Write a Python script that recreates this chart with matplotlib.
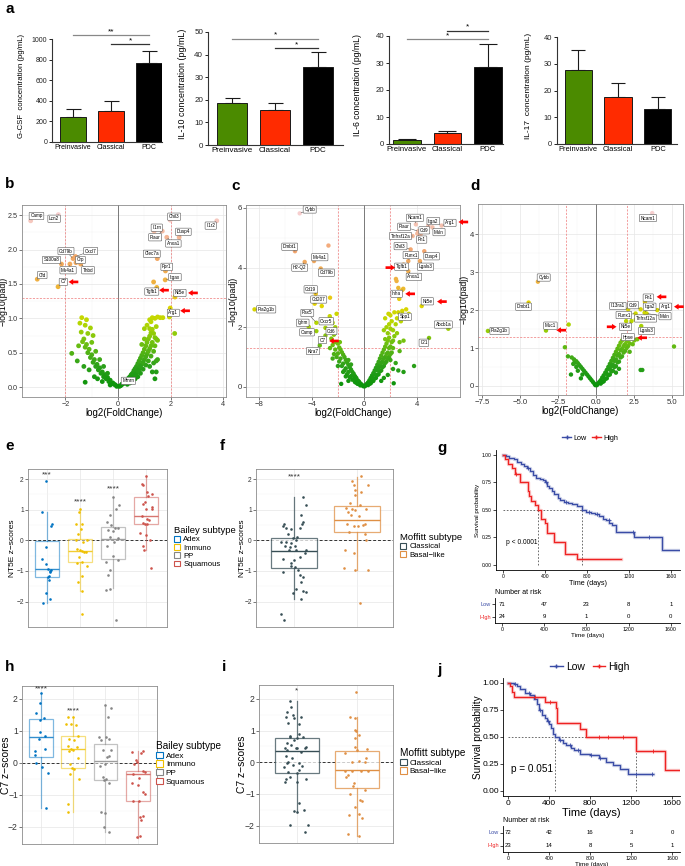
import numpy as np
import matplotlib
matplotlib.use("Agg")
import matplotlib.pyplot as plt
from matplotlib.colors import LinearSegmentedColormap
from matplotlib.lines import Line2D
from matplotlib.patches import Patch

plt.rcParams["font.family"] = ["Liberation Sans", "DejaVu Sans"]

W, H = 685, 866
fig = plt.figure(figsize=(W / 100, H / 100), dpi=100)


def add_ax(x0, y0, x1, y1):
    return fig.add_axes([x0 / W, 1 - y1 / H, (x1 - x0) / W, (y1 - y0) / H])


def ftext(x, y, s, **kw):
    fig.text(x / W, 1 - y / H, s, **kw)


# ---------------- data: panel a ----------------
cyto_groups = ["Preinvasive", "Classical", "PDC"]
cyto_colors = ["#4b8b00", "#ff2b00", "#000000"]
gcsf_mean = [240, 300, 770]
gcsf_sem = [80, 95, 110]
il10_mean = [18.8, 15.3, 34.5]
il10_sem = [2.0, 3.3, 6.7]
il6_mean = [1.3, 3.9, 28.5]
il6_sem = [0.4, 0.9, 8.5]
il17_mean = [27.7, 17.7, 13.0]
il17_sem = [7.3, 5.1, 4.4]
gcsf_sig = [(0, 2, 1035, "**"), (1, 2, 950, "*")]
il10_sig = [(0, 2, 47, "*"), (1, 2, 42.8, "*")]
il6_sig = [(0, 2, 38.8, "*"), (1, 2, 42, "*")]

# ---------------- data: volcano b ----------------
b_cloud = [(-0.05, 0.01), (-0.1, 0.03), (-0.15, 0.04), (-0.2, 0.06), (-0.25, 0.05), (-0.3, 0.1), (-0.35, 0.08),
           (-0.4, 0.14), (-0.45, 0.12), (-0.5, 0.18), (-0.55, 0.15), (-0.6, 0.22), (-0.65, 0.2), (-0.7, 0.28),
           (-0.75, 0.25), (-0.8, 0.33), (-0.85, 0.3), (-0.9, 0.4), (-0.95, 0.36), (-1.0, 0.47), (-1.05, 0.43),
           (-1.1, 0.55), (-1.15, 0.5), (-1.2, 0.62), (-1.25, 0.58), (-1.3, 0.7), (-1.35, 0.66), (-1.4, 0.8),
           (-0.4, 0.2), (-0.55, 0.3), (-0.7, 0.4), (-0.85, 0.52), (-1.0, 0.65), (-1.15, 0.78), (-1.25, 0.9),
           (-1.38, 1.01), (-1.2, 0.98), (-1.05, 0.86), (-0.95, 0.75), (-1.45, 0.93), (-1.76, 0.49), (-1.55, 0.38),
           (-1.25, 0.07), (-1.1, 0.25), (-1.3, 0.3), (-0.6, 0.08), (-0.9, 0.15), (-1.5, 0.6), (-0.78, 0.12),
           (-0.3, 0.03), (0.05, 0.01), (0.1, 0.02), (0.15, 0.04), (0.2, 0.05), (0.25, 0.07), (0.3, 0.09),
           (0.35, 0.1), (0.4, 0.13), (0.45, 0.15), (0.5, 0.18), (0.55, 0.2), (0.6, 0.24), (0.65, 0.27), (0.7, 0.3),
           (0.75, 0.34), (0.8, 0.38), (0.85, 0.42), (0.9, 0.46), (0.95, 0.5), (1.0, 0.55), (1.05, 0.6), (1.1, 0.65),
           (1.15, 0.7), (1.2, 0.74), (1.25, 0.79), (1.3, 0.84), (0.35, 0.04), (0.45, 0.06), (0.55, 0.08),
           (0.65, 0.12), (0.75, 0.15), (0.85, 0.2), (0.95, 0.26), (1.05, 0.32), (1.15, 0.38), (1.25, 0.45),
           (1.35, 0.52), (1.4, 0.6), (0.6, 0.15), (0.7, 0.2), (0.8, 0.26), (0.9, 0.33), (1.0, 0.4), (1.1, 0.48),
           (1.2, 0.56), (1.3, 0.65), (1.4, 0.72), (1.45, 0.7), (1.5, 0.68), (1.35, 0.78), (0.5, 0.12), (0.65, 0.18),
           (0.75, 0.24), (0.85, 0.3), (0.95, 0.36), (1.05, 0.44), (1.15, 0.52), (1.25, 0.6), (1.2, 0.3),
           (1.35, 0.35), (1.3, 0.22), (1.45, 0.22), (1.4, 0.12), (1.45, 0.38), (1.5, 0.4), (1.3, 1.01), (1.4, 1.0),
           (1.5, 1.02), (1.6, 1.01), (1.7, 1.01), (1.95, 1.02), (2.15, 0.78), (1.2, 0.98), (1.1, 0.9), (1.0, 0.85),
           (1.45, 0.88), (0.9, 0.62), (1.0, 0.7), (1.2, 0.85), (1.25, 0.95), (1.35, 1.53), (-1.65, 1.88)]
b_genes = [("Camp", -3.32, 2.42), ("Lcn2", -2.27, 2.51), ("Cd79b", -1.71, 1.87), ("Cxcl7", -1.62, 1.9),
           ("S100a8", -2.15, 1.79), ("Crp", -1.6, 1.81), ("Ms4a1", -1.83, 1.79), ("Thbd", -1.42, 1.79),
           ("Cfd", -3.07, 1.57), ("C7", -2.28, 1.46), ("Chil3", 1.98, 2.43), ("Il1rn", 1.37, 2.27),
           ("Plaur", 1.68, 2.27), ("Dusp4", 2.32, 2.18), ("Anxa1", 1.85, 2.18), ("Il1r2", 3.75, 2.42),
           ("Clec7a", 1.49, 1.87), ("Fpr1", 1.8, 1.69), ("Itgax", 1.79, 1.56), ("Tgfb1", 1.47, 1.45),
           ("Nt5e", 2.16, 1.31), ("Arg1", 1.98, 1.15), ("Mmrn", 0.15, 0.04)]
b_label_at = [(-3.1, 2.49), (-2.43, 2.45), (-1.98, 1.98), (-1.04, 1.98), (-2.53, 1.85), (-1.43, 1.85),
              (-1.9, 1.7), (-1.14, 1.7), (-2.88, 1.63), (-2.08, 1.53), (2.13, 2.48), (1.47, 2.32), (1.41, 2.18),
              (2.48, 2.26), (2.1, 2.09), (3.52, 2.35), (1.28, 1.94), (1.85, 1.75), (2.16, 1.6), (1.28, 1.39),
              (2.35, 1.37), (2.1, 1.08), (0.39, 0.09)]
b_arrows = [(-1.88, 1.53, "left"), (1.56, 1.41, "left"), (2.66, 1.37, "left"), (2.36, 1.11, "left")]

# ---------------- data: volcano c ----------------
c_cloud = [(-0.05, 0.02), (-0.1, 0.04), (-0.2, 0.08), (-0.3, 0.12), (-0.4, 0.18), (-0.5, 0.22), (-0.6, 0.3),
           (-0.7, 0.36), (-0.8, 0.44), (-0.9, 0.5), (-1.0, 0.58), (-1.1, 0.66), (-1.2, 0.74), (-1.3, 0.82),
           (-1.4, 0.9), (-1.5, 1.0), (-1.6, 1.08), (-1.7, 1.16), (-1.8, 1.25), (-1.9, 1.32), (-0.3, 0.05),
           (-0.5, 0.1), (-0.7, 0.16), (-0.9, 0.24), (-1.1, 0.32), (-1.3, 0.42), (-1.5, 0.55), (-1.7, 0.7),
           (-1.9, 0.85), (-2.1, 1.0), (-0.6, 0.14), (-0.8, 0.26), (-1.0, 0.36), (-1.2, 0.5), (-1.4, 0.62),
           (-1.6, 0.78), (-1.8, 0.95), (-2.0, 1.12), (-2.2, 1.25), (-2.4, 1.4), (-2.0, 1.45), (-2.2, 1.5),
           (-2.5, 1.62), (-2.3, 1.75), (-1.85, 1.5), (-2.0, 0.7), (-2.3, 1.1), (-1.2, 0.9), (-1.0, 0.75),
           (-1.75, 0.1), (-2.6, 1.3), (-2.4, 0.95), (-1.6, 0.5), (-1.4, 0.35), (-1.2, 0.2), (-2.5, 1.9),
           (-2.2, 2.0), (-2.4, 2.15), (-2.1, 2.45), (-2.6, 2.3), (0.05, 0.02), (0.1, 0.05), (0.2, 0.1),
           (0.3, 0.15), (0.4, 0.22), (0.5, 0.3), (0.6, 0.38), (0.7, 0.46), (0.8, 0.55), (0.9, 0.64), (1.0, 0.74),
           (1.1, 0.84), (1.2, 0.95), (1.3, 1.05), (1.4, 1.15), (1.5, 1.25), (1.6, 1.35), (1.7, 1.45), (1.8, 1.55),
           (1.9, 1.65), (0.3, 0.06), (0.5, 0.12), (0.7, 0.2), (0.9, 0.3), (1.1, 0.42), (1.3, 0.55), (1.5, 0.7),
           (1.7, 0.85), (1.9, 1.0), (2.1, 1.15), (0.4, 0.1), (0.6, 0.18), (0.8, 0.28), (1.0, 0.4), (1.2, 0.52),
           (1.4, 0.66), (1.6, 0.8), (1.8, 0.95), (2.0, 1.1), (2.2, 1.3), (0.6, 0.3), (0.8, 0.42), (1.0, 0.55),
           (1.2, 0.7), (1.4, 0.85), (1.6, 1.0), (1.8, 1.15), (2.0, 1.35), (2.2, 1.55), (1.1, 0.62), (1.3, 0.8),
           (1.5, 0.95), (1.7, 1.1), (1.9, 1.3), (2.1, 1.5), (2.3, 1.7), (1.6, 1.6), (1.8, 1.8), (2.0, 1.95),
           (1.5, 1.9), (1.7, 2.0), (1.9, 2.1), (2.2, 1.9), (2.4, 2.1), (1.6, 2.3), (2.0, 2.4), (2.3, 2.5),
           (2.1, 2.2), (1.85, 2.45), (2.5, 2.3), (2.6, 2.5), (2.9, 2.55), (3.2, 2.6), (3.4, 2.45), (2.8, 2.2),
           (3.1, 2.3), (2.5, 1.8), (2.7, 1.5), (3.0, 1.55), (2.7, 1.2), (3.8, 0.7), (2.6, 0.55), (3.0, 0.5),
           (2.25, 0.12), (1.3, 0.2), (2.4, 0.8), (2.2, 0.6), (1.8, 0.4), (1.5, 0.3), (2.0, 0.9), (-2.72, 4.74),
           (-2.6, 2.99), (-3.23, 2.71), (2.42, 3.62), (2.47, 3.55), (2.6, 3.32), (2.98, 3.29), (2.67, 2.95)]
c_genes = [("Cybb", -4.91, 5.82), ("Dmbt1", -5.27, 4.55), ("Ms4a1", -3.82, 4.22), ("H2-Q2", -4.53, 4.19),
           ("Cd79b", -3.31, 3.97), ("Cd19", -3.69, 3.12), ("Cd207", -3.77, 2.79), ("Pla2g1b", -8.35, 2.6),
           ("Pax5", -3.64, 2.15), ("Cxcr5", -2.62, 2.37), ("Ighm", -4.22, 2.01), ("Camp", -3.64, 1.87),
           ("Cd6", -2.95, 1.98), ("C7", -2.95, 1.72), ("Klra7", -3.38, 1.39), ("Ncam1", 3.94, 5.45),
           ("Itga2", 4.89, 5.41), ("Arg1", 5.9, 5.41), ("Plaur", 4.12, 5.22), ("Cd9", 4.3, 5.12),
           ("Msln", 5.2, 5.35), ("Tnfrsf12a", 3.69, 5.06), ("Fn1", 4.05, 5.14), ("Chil3", 3.54, 4.61),
           ("Runx1", 3.36, 4.22), ("Dusp4", 4.58, 4.55), ("Tgfb1", 3.0, 4.1), ("Lgals3", 4.25, 4.22),
           ("Anxa1", 3.36, 3.88), ("Inha", 2.9, 3.25), ("Nt5e", 4.38, 2.71), ("Spp1", 2.9, 2.45),
           ("Abcb1a", 6.41, 1.95), ("Il21", 4.94, 1.64)]
c_label_at = [(-4.15, 5.95), (-5.67, 4.7), (-3.38, 4.35), (-4.91, 4.0), (-2.88, 3.83), (-4.07, 3.27),
              (-3.46, 2.93), (-7.46, 2.6), (-4.33, 2.48), (-2.88, 2.2), (-4.68, 2.15), (-4.35, 1.83),
              (-2.49, 1.87), (-3.18, 1.57), (-3.89, 1.2), (3.87, 5.67), (5.27, 5.56), (6.54, 5.5), (3.05, 5.37),
              (4.58, 5.25), (5.7, 5.19), (2.77, 5.06), (4.38, 4.94), (2.77, 4.72), (3.56, 4.42), (5.14, 4.38),
              (2.85, 4.03), (4.68, 4.03), (3.79, 3.69), (2.47, 3.12), (4.81, 2.87), (3.1, 2.35), (6.03, 2.09),
              (4.55, 1.48)]
c_arrows = [(-2.67, 1.54, "left"), (2.37, 4.0, "right"), (3.13, 3.12, "left"), (5.55, 2.86, "left"),
            (7.18, 5.53, "left")]

# ---------------- data: volcano d ----------------
d_cloud = [(-0.05, 0.02), (-0.1, 0.05), (-0.2, 0.1), (-0.3, 0.15), (-0.4, 0.2), (-0.5, 0.25), (-0.6, 0.3),
           (-0.7, 0.35), (-0.8, 0.4), (-0.9, 0.45), (-1.0, 0.5), (-1.1, 0.55), (-1.2, 0.6), (-1.3, 0.65),
           (-1.45, 0.7), (-1.6, 0.75), (-1.85, 0.78), (-2.05, 1.02), (-1.2, 0.4), (-1.5, 0.58), (-1.65, 0.3),
           (-1.3, 0.5), (-0.9, 0.3), (-1.0, 0.2), (-1.45, 0.6), (0.05, 0.02), (0.1, 0.05), (0.2, 0.1),
           (0.3, 0.15), (0.4, 0.22), (0.5, 0.28), (0.6, 0.35), (0.7, 0.42), (0.8, 0.5), (0.9, 0.58), (1.0, 0.66),
           (1.1, 0.74), (1.2, 0.82), (1.3, 0.9), (1.4, 0.98), (1.5, 1.06), (1.6, 1.14), (1.7, 1.2), (1.8, 1.25),
           (1.9, 1.28), (0.3, 0.06), (0.5, 0.12), (0.7, 0.2), (0.9, 0.3), (1.1, 0.4), (1.3, 0.52), (1.5, 0.64),
           (1.7, 0.78), (1.9, 0.92), (2.1, 1.05), (0.4, 0.1), (0.6, 0.18), (0.8, 0.28), (1.0, 0.38), (1.2, 0.5),
           (1.4, 0.62), (1.6, 0.75), (1.8, 0.88), (2.0, 1.0), (2.2, 1.12), (0.7, 0.32), (0.9, 0.44), (1.1, 0.56),
           (1.3, 0.7), (1.5, 0.84), (1.7, 0.98), (1.9, 1.1), (2.1, 1.2), (2.3, 1.25), (1.0, 0.52), (1.2, 0.66),
           (1.4, 0.8), (1.6, 0.94), (1.8, 1.05), (2.0, 1.18), (2.2, 0.9), (2.4, 1.1), (2.5, 1.2), (1.5, 0.45),
           (1.3, 0.35), (2.92, 0.42), (3.03, 0.42), (5.11, 1.04), (1.97, 1.71), (-1.8, 1.62)]
d_genes = [("Ncam1", 3.68, 4.56), ("Cybb", -3.82, 2.75), ("Dmbt1", -4.43, 2.2), ("Muc1", -3.29, 1.46),
           ("Pla2g1b", -7.1, 1.45), ("Fn1", 3.2, 2.22), ("Il13ra1", 2.1, 2.02), ("Cd9", 2.92, 2.02),
           ("Itga2", 3.18, 1.93), ("Arg1", 4.01, 2.0), ("Msln", 3.31, 1.91), ("Runx1", 2.59, 1.91),
           ("Tnfrsf12a", 2.6, 1.75), ("Nt5e", 2.32, 1.71), ("Lgals3", 2.96, 1.58), ("Hpse", 2.7, 1.23)]
d_label_at = [(3.4, 4.43), (-3.44, 2.86), (-4.76, 2.09), (-3.0, 1.59), (-6.34, 1.45), (3.42, 2.33),
              (1.43, 2.11), (2.43, 2.13), (3.51, 2.09), (4.56, 2.09), (4.52, 1.84), (1.82, 1.87), (3.25, 1.78),
              (1.93, 1.56), (3.31, 1.45), (2.08, 1.29)]
d_arrows = [(-2.61, 1.47, "left"), (3.97, 2.35, "left"), (5.11, 2.09, "left"), (1.34, 1.56, "right"),
            (2.7, 1.27, "left")]

# ---------------- data: box plots ----------------
bailey = ["Adex", "Immuno", "PP", "Squamous"]
bailey_colors = ["#0073C2", "#EFC000", "#868686", "#CD534C"]
moffitt = ["Classical", "Basal\u2212like"]
moffitt_colors = ["#374E55", "#DF8F44"]

# (q1, median, q3, lower whisker, upper whisker)
e_stats = [(-1.21, -0.93, -0.02, -2.03, 0.93), (-0.71, -0.35, 0.03, -1.67, 1.01),
           (-0.6, 0.05, 0.43, -1.57, 1.42), (0.52, 0.8, 1.42, -0.32, 2.1)]
e_vals = [[1.95, 0.93, 0.55, 0.47, -0.21, -0.62, -0.78, -0.93, -0.99, -0.97, -1.05, -1.16, -1.2, -1.29, -1.71,
           -1.92, -2.05],
          [1.01, 0.93, 0.52, 0.55, 0.21, 0.36, 0.01, 0.01, -0.04, -0.29, -0.32, -0.34, -0.37, -0.39, -0.53, -0.73,
           -0.7, -0.84, -1.18, -1.35, -1.67, -2.4],
          [1.42, 1.17, 1.02, 0.83, 0.61, 0.5, 0.39, 0.39, 0.34, 0.32, 0.12, 0.07, -0.04, -0.18, -0.51, -0.64,
           -0.72, -0.97, -1.13, -1.62, -1.6, -2.6],
          [2.1, 1.83, 1.8, 1.57, 1.5, 1.45, 1.26, 1.18, 1.1, 1.01, 1.01, 0.8, 0.7, 0.66, 0.58, 0.55, 0.52, 0.25,
           0.17, 0.01, -0.18, -0.32, -0.89]]
e_jit = [[-0.02, -0.15, 0.16, 0.13, -0.04, -0.15, -0.02, 0.03, 0.08, 0.13, 0.08, 0.05, 0.03, 0.06, -0.02, 0.08,
          -0.12],
         [0, -0.02, -0.12, 0.07, -0.05, 0.02, -0.12, 0.22, 0.1, -0.1, 0, 0.06, 0.12, 0.18, -0.03, -0.08, 0.05, 0.2,
          0.07, -0.05, 0.05, 0.07],
         [0, 0.18, 0.1, -0.1, -0.18, -0.05, 0.05, 0.15, -0.15, 0, -0.08, 0.15, 0.02, -0.18, 0, 0.16, -0.2, -0.1,
          -0.15, -0.2, -0.08, 0.08],
         [0, -0.13, -0.08, 0.02, 0.19, 0.07, -0.03, -0.1, 0.17, -0.01, 0.17, -0.13, 0.02, 0.1, -0.1, -0.03, 0.02,
          -0.18, -0.01, 0.12, -0.08, -0.06, 0.14]]
e_sig = [(1, 2.13, "***"), (2, 1.26, "****"), (3, 1.67, "****")]

f_stats = [(-0.91, -0.34, 0.07, -1.92, 1.42), (0.28, 0.68, 1.12, -0.97, 2.08)]
f_vals = [[1.42, 1.15, 0.83, 0.61, 0.55, 0.53, 0.47, 0.39, 0.39, 0.37, 0.21, 0.1, 0.07, -0.04, -0.04, -0.08,
           0.01, -0.18, -0.21, -0.18, -0.32, -0.32, -0.32, -0.4, -0.62, -0.55, -0.64, -0.75, -0.84, -0.86, -0.97,
           -1.05, -1.13, -1.21, -1.35, -1.6, -1.73, -1.64, -1.7, -1.92, -2.4, -2.6],
          [2.1, 1.95, 1.8, 1.8, 1.64, 1.57, 1.48, 1.23, 1.17, 1.07, 1.02, 0.99, 1.02, 0.93, 0.83, 0.8, 0.55, 0.55,
           0.47, 0.5, 0.47, 0.28, 0.21, 0.01, -0.32, -0.4, -0.89, -0.97, -0.97, -2.05]]
f_jit = [[0.15, 0.19, 0.11, 0.15, 0.13, -0.16, -0.17, -0.12, 0.09, -0.04, -0.09, 0.05, -0.02, -0.2, -0.12, -0.05,
          0.04, -0.14, -0.06, 0.02, -0.07, 0.04, 0.19, 0.18, -0.18, 0.09, 0, -0.04, -0.05, 0.02, 0.07, -0.17, 0.09,
          0.15, 0.12, 0.03, -0.01, 0.15, 0.19, 0.11, -0.2, -0.16],
         [0.06, -0.08, 0.18, -0.05, -0.03, 0.06, -0.03, -0.11, 0.05, -0.17, -0.08, -0.03, 0.14, -0.15, -0.1, 0.03,
          -0.16, 0.12, -0.05, 0.1, 0.01, -0.12, 0.12, 0.14, -0.19, -0.05, -0.2, -0.03, 0.17, 0.04]]
f_sig = [(1, 2.08, "****")]

h_stats = [(0.18, 0.81, 1.38, -1.4, 2.17), (-0.17, 0.44, 0.84, -1.55, 1.42),
           (-0.53, 0.07, 0.6, -2.18, 1.82), (-1.19, -0.36, -0.27, -2.35, 0.38)]
h_vals = [[2.17, 1.87, 1.56, 1.4, 1.35, 0.96, 0.85, 0.75, 0.43, 0.36, 0.25, -0.01, -0.12, -0.32, -1.4],
          [1.42, 1.42, 1.21, 1.21, 1.17, 0.85, 0.74, 0.72, 0.51, 0.44, 0.39, 0.48, 0.38, 0.15, -0.04, -0.17, -0.2,
           -0.35, -0.5, -1.3, -1.55],
          [1.82, 1.72, 1.42, 0.81, 0.8, 0.75, 0.7, 0.41, 0.41, 0.17, 0.2, -0.04, -0.09, -0.43, -0.5, -0.53, -0.62,
           -1.53, -1.58, -2.0, -2.18],
          [0.38, 0.29, 0.34, 0.09, 0.01, -0.03, -0.25, -0.29, -0.36, -0.48, -0.64, -0.69, -0.9, -0.98, -1.19,
           -1.19, -1.69, -1.65, -1.79, -2.31, -2.28]]
h_jit = [[0, -0.02, -0.14, 0.08, -0.04, -0.02, 0.11, -0.05, 0.13, -0.18, -0.2, -0.14, 0.04, 0.21, 0.16],
         [-0.15, -0.02, -0.21, -0.07, 0.08, 0.15, -0.13, 0.02, -0.15, -0.08, -0.02, 0.12, -0.12, 0.15, -0.1, -0.05,
          0.02, -0.1, 0.18, -0.15, -0.15],
         [0, 0.18, 0.07, -0.19, 0.02, 0.1, -0.13, -0.08, 0.18, 0.04, 0.12, 0, -0.16, -0.08, 0.02, -0.06, 0.1,
          -0.13, 0, -0.06, 0.12],
         [0.18, 0.09, -0.19, -0.05, -0.03, -0.1, 0.15, 0.22, -0.13, 0.05, -0.19, 0.02, 0.18, 0.22, -0.13, 0.05,
          0.07, 0.15, 0.09, -0.03, 0.07]]
h_sig = [(1, 2.32, "****"), (2, 1.61, "****")]

i_stats = [(-0.33, 0.36, 0.78, -1.56, 1.92), (-0.8, -0.24, 0.36, -2.32, 1.44)]
i_vals = [[1.92, 1.73, 1.6, 1.49, 1.44, 1.41, 1.44, 1.23, 1.2, 0.83, 0.88, 0.8, 0.78, 0.81, 0.71, 0.62, 0.55,
           0.46, 0.46, 0.44, 0.49, 0.44, 0.39, 0.32, 0.21, 0.15, 0.0, -0.03, -0.03, -0.14, -0.08, -0.11, -0.24,
           -0.32, -0.33, -0.45, -0.53, -0.53, -0.63, -0.63, -1.29, -1.54, -1.58, -1.51, -1.98, -1.98, -2.19],
          [2.21, 1.44, 1.39, 1.02, 0.99, 0.86, 0.76, 0.49, 0.39, 0.28, 0.42, 0.15, 0.02, 0.04, 0.02, -0.29, -0.4,
           -0.45, -0.29, -0.29, -0.27, -0.66, -0.74, -0.87, -1.0, -1.19, -1.21, -1.4, -1.64, -1.68, -1.77, -2.27,
           -2.33]]
i_jit = [[-0.12, -0.1, -0.16, -0.07, -0.18, -0.05, 0.07, -0.15, 0.04, -0.11, 0.04, -0.12, 0.01, 0.11, -0.04,
          -0.16, -0.1, -0.19, -0.01, 0.01, 0.15, 0.14, -0.16, 0.07, -0.18, -0.08, -0.14, -0.16, 0.03, -0.22, -0.07,
          0.08, 0.03, -0.14, 0, -0.11, -0.18, 0.16, -0.19, 0.01, 0.03, -0.05, 0, 0.12, -0.11, 0.18, 0.14],
         [-0.01, -0.12, -0.04, -0.04, -0.01, 0.03, -0.04, -0.04, 0, -0.2, 0.17, 0.15, -0.08, 0.04, 0.13, -0.2,
          -0.15, -0.18, -0.08, 0.07, 0.18, -0.05, -0.07, 0.13, -0.12, 0.05, 0.09, -0.04, 0.03, -0.13, 0.09, -0.15,
          0.03]]
i_sig = [(1, 2.25, "*")]

# ---------------- data: survival ----------------
km_colors = {"Low": "#3a4ca6", "High": "#ee2222"}
risk_times = [0, 400, 800, 1200, 1600]
g_low_t = [0, 30, 60, 100, 130, 170, 200, 230, 260, 290, 310, 350, 380, 400, 420, 440, 470, 490, 520, 540, 580,
           620, 660, 700, 750, 790, 840, 880, 910, 950, 980, 1010, 1040, 1080, 1250, 1510, 1686]
g_low_s = [1.0, 0.99, 0.97, 0.96, 0.94, 0.92, 0.9, 0.88, 0.85, 0.82, 0.79, 0.78, 0.77, 0.75, 0.72, 0.7, 0.67,
           0.64, 0.61, 0.59, 0.57, 0.56, 0.55, 0.53, 0.5, 0.48, 0.47, 0.46, 0.44, 0.42, 0.41, 0.38, 0.36, 0.3, 0.25,
           0.13, 0.13]
g_high_t = [0, 20, 50, 90, 110, 160, 235, 250, 270, 300, 337, 360, 400, 420, 485, 590, 705, 1125]
g_high_s = [1.0, 0.96, 0.92, 0.88, 0.83, 0.75, 0.67, 0.63, 0.58, 0.54, 0.5, 0.42, 0.38, 0.29, 0.21, 0.1, 0.05, 0.05]
g_low_cens = [234, 406, 600, 818, 900, 1006, 1234, 1390]
g_high_cens = [120]
g_medians = [337, 750]
g_risk_low = [71, 47, 23, 8, 1]
g_risk_high = [24, 9, 1, 0, 0]

j_low_t = [0, 60, 90, 120, 170, 215, 250, 280, 300, 330, 360, 380, 400, 415, 440, 458, 500, 540, 570, 610, 640,
           700, 800, 890, 960, 1020, 1090, 1170, 1410]
j_low_s = [1.0, 0.99, 0.97, 0.94, 0.91, 0.89, 0.85, 0.8, 0.75, 0.7, 0.67, 0.65, 0.62, 0.58, 0.53, 0.5, 0.47, 0.44,
           0.42, 0.4, 0.38, 0.34, 0.33, 0.3, 0.27, 0.24, 0.2, 0.155, 0.155]
j_high_t = [0, 15, 40, 55, 361, 465, 474, 706, 765, 1248, 1529, 1678]
j_high_s = [1.0, 0.97, 0.92, 0.87, 0.82, 0.77, 0.63, 0.57, 0.5, 0.37, 0.19, 0.19]
j_low_cens = [71, 200, 313, 393, 506, 603, 684, 813, 894, 1248, 1403]
j_high_cens = [264, 410, 890, 974, 1119, 1410]
j_medians = [458, 1248]
j_risk_low = [72, 42, 16, 3, 0]
j_risk_high = [23, 14, 8, 5, 1]


# ================= panel a =================
def bar_panel(box, xlim, mean, sem, ymax, ystep, ylabel, ylab_x, sig, fs, cap):
    ax = add_ax(*box)
    pos = np.arange(len(cyto_groups))
    ax.errorbar(pos, mean, yerr=[[0] * 3, sem], fmt="none", ecolor="#1a1a1a", elinewidth=0.8,
                capsize=cap, capthick=0.8, zorder=1)
    ax.bar(pos, mean, width=0.68, color=cyto_colors, edgecolor="#1a1a1a", linewidth=0.7, zorder=2)
    ax.set_xlim(*xlim)
    ax.set_ylim(0, ymax)
    ax.set_yticks(np.arange(0, ymax + 1e-9, ystep))
    ax.set_xticks(pos)
    ax.set_xticklabels(cyto_groups, fontsize=fs)
    ax.tick_params(axis="x", length=0, pad=1.5)
    ax.tick_params(axis="y", length=2.5, width=0.7, labelsize=fs, pad=1, colors="#222222")
    for s in ["top", "right"]:
        ax.spines[s].set_visible(False)
    for s in ["left", "bottom"]:
        ax.spines[s].set_linewidth(0.8)
        ax.spines[s].set_color("#333333")
    ax.patch.set_alpha(0)
    y0, y1 = box[1], box[3]
    ftext(ylab_x, (y0 + y1) / 2 - 5, ylabel, rotation=90, ha="center", va="center", fontsize=fs + 0.6)
    for i0, i1, y, star in sig:
        col = "#888888" if i1 - i0 > 1 else "#333333"
        ax.plot([i0, i1], [y, y], color=col, lw=0.9, clip_on=False)
        ax.text((i0 + i1) / 2, y, star, ha="center", va="bottom", fontsize=6)


bar_panel((52, 39, 162, 142), (-0.55, 2.34), gcsf_mean, gcsf_sem, 1000, 200,
          "G-CSF  concentration (pg/mL)", 22, gcsf_sig, 5.0, 5.4)
bar_panel((208, 32, 343, 145), (-0.56, 2.58), il10_mean, il10_sem, 50, 10,
          "IL-10 concentration (pg/mL)", 183, il10_sig, 5.8, 5.4)
bar_panel((389, 36, 503, 144), (-0.44, 2.37), il6_mean, il6_sem, 40, 10,
          "IL-6 concentration (pg/mL)", 357, il6_sig, 5.6, 6.5)
bar_panel((557, 37, 677, 144), (-0.53, 2.48), il17_mean, il17_sem, 40, 10,
          "IL-17  concentration (pg/mL)", 528, [], 5.4, 5.0)

# ================= volcano panels =================
vol_cmap = LinearSegmentedColormap.from_list(
    "vol", [(0, "#0b930b"), (0.12, "#2ca01a"), (0.25, "#6cbf10"), (0.38, "#bcd800"), (0.48, "#e6d400"),
            (0.58, "#eeb438"), (0.78, "#f2a46c"), (1.0, "#f7cfcf")])


def fmt_num(v, dec):
    s = f"{v:.{dec}f}"
    return s.replace("-", "\u2212")


def theme_bw(ax, xticks, yticks, xdec, ydec, fs):
    ax.set_xticks(xticks)
    ax.set_yticks(yticks)
    ax.set_xticklabels([fmt_num(v, xdec) for v in xticks], fontsize=fs)
    ax.set_yticklabels([fmt_num(v, ydec) for v in yticks], fontsize=fs)
    ax.tick_params(length=2, width=0.5, color="#444444", labelcolor="#333333", pad=1)
    ax.grid(True, which="major", color="#e6e6e6", lw=0.5, zorder=0)
    ax.grid(True, which="minor", color="#f2f2f2", lw=0.3, zorder=0)
    ax.tick_params(which="minor", length=0)
    ax.set_axisbelow(True)
    for s in ax.spines.values():
        s.set_color("#8c8c8c")
        s.set_linewidth(0.6)


def volcano(box, cloud, genes, label_at, arrows, xlim, ylim, xticks, yticks, xdec, ydec, size, ylab_x, tfs):
    ax = add_ax(*box)
    xs = [p[0] for p in cloud] + [g[1] for g in genes]
    ys = [p[1] for p in cloud] + [g[2] for g in genes]
    ymax = max(ys)
    ax.axvline(0, color="#666666", lw=0.6, zorder=1)
    for v in (-2, 2):
        ax.axvline(v, color="#ee7777", lw=0.5, ls=(0, (3, 2)), zorder=1)
    ax.axhline(1.3, color="#ee7777", lw=0.5, ls=(0, (3, 2)), zorder=1)
    ax.scatter(xs, ys, c=[vol_cmap(v / ymax) for v in ys], s=size, lw=0, zorder=3)
    for (name, gx, gy), (lx, ly) in zip(genes, label_at):
        ax.annotate(name, xy=(gx, gy), xytext=(lx, ly), fontsize=3.3, ha="center", va="center", zorder=5,
                    bbox=dict(boxstyle="round,pad=0.25,rounding_size=0.15", fc="white", ec="#555555", lw=0.4),
                    arrowprops=dict(arrowstyle="-", lw=0.35, color="#444444", shrinkA=0, shrinkB=1))
    for ax_x, ax_y, side in arrows:
        dx = 7 if side == "left" else -7
        ax.annotate("", xy=(ax_x, ax_y), xytext=(dx, 0), textcoords="offset points", annotation_clip=False,
                    zorder=6,
                    arrowprops=dict(arrowstyle="simple,head_length=0.55,head_width=0.7,tail_width=0.32",
                                    fc="#ff0000", ec="none", mutation_scale=6, shrinkA=0, shrinkB=0))
    ax.set_xlim(*xlim)
    ax.set_ylim(*ylim)
    theme_bw(ax, xticks, yticks, xdec, ydec, tfs)
    ax.set_xticks([(a + b) / 2 for a, b in zip(xticks[:-1], xticks[1:])], minor=True)
    ax.set_yticks([(a + b) / 2 for a, b in zip(yticks[:-1], yticks[1:])], minor=True)
    ax.set_xlabel("log2(FoldChange)", fontsize=7, labelpad=0)
    ftext(ylab_x, (box[1] + box[3]) / 2, "\u2212log10(padj)", rotation=90, ha="center", va="center",
          fontsize=6.3)
    return ax


volcano((22, 205, 226, 397), b_cloud, b_genes, b_label_at, b_arrows, (-3.65, 4.1), (-0.145, 2.65),
        [-2, 0, 2, 4], [0, 0.5, 1.0, 1.5, 2.0, 2.5], 0, 1, 12, 3.5, 5.2)
volcano((246, 205, 460, 397), c_cloud, c_genes, c_label_at, c_arrows, (-9.0, 7.3), (-0.34, 6.1),
        [-8, -4, 0, 4], [0, 2, 4, 6], 0, 0, 10, 233, 5.6)
volcano((478, 204, 683, 395), d_cloud, d_genes, d_label_at, d_arrows, (-7.75, 5.7), (-0.24, 4.8),
        [-7.5, -5.0, -2.5, 0.0, 2.5, 5.0], [0, 1, 2, 3, 4], 1, 0, 10, 464, 5.6)


# ================= box plots =================
def box_panel(box, stats, vals, jit, colors, xlim, ylim, yticks, sig, ylabel, ylab_x, fs, lab_fs, alpha,
              names, leg_title, leg_xy, leg_fs, title_fs):
    ax = add_ax(*box)
    ax.axhline(0, color="#333333", lw=0.7, ls=(0, (3, 2)), zorder=1)
    for k, (st, col) in enumerate(zip(stats, colors)):
        q1, med, q3, lo, hi = st
        d = dict(med=med, q1=q1, q3=q3, whislo=lo, whishi=hi, fliers=[])
        ax.bxp([d], positions=[k + 1], widths=0.74, showcaps=False, showfliers=False, patch_artist=True,
               boxprops=dict(facecolor="white", edgecolor=col, lw=0.9, alpha=alpha),
               whiskerprops=dict(color=col, lw=0.9, alpha=alpha),
               medianprops=dict(color=col, lw=1.0, alpha=min(1, alpha + 0.3)), zorder=2)
        ax.scatter([k + 1 + j for j in jit[k]], vals[k], s=3.5, color=col, lw=0, zorder=3)
    for k, y, star in sig:
        ax.text(k, y, star, ha="center", va="center", fontsize=6, color="#333333")
    ax.set_xlim(*xlim)
    ax.set_ylim(*ylim)
    theme_bw(ax, list(range(1, len(stats) + 1)), yticks, 0, 0, fs)
    ax.set_xticklabels([])
    ax.tick_params(axis="x", length=0)
    ax.set_yticks([(a + b) / 2 for a, b in zip(yticks[:-1], yticks[1:])], minor=True)
    ftext(ylab_x, (box[1] + box[3]) / 2, ylabel, rotation=90, ha="center", va="center", fontsize=lab_fs)
    handles = [Patch(facecolor="white", edgecolor=c, lw=0.8) for c in colors]
    fig.legend(handles, names, title=leg_title, loc="upper left",
               bbox_to_anchor=(leg_xy[0] / W, 1 - leg_xy[1] / H), frameon=False, fontsize=leg_fs,
               title_fontsize=title_fs, handlelength=0.8, handleheight=0.8, labelspacing=0.08,
               borderpad=0, handletextpad=0.4, alignment="left", borderaxespad=0)


box_panel((28, 469, 167, 627), e_stats, e_vals, e_jit, bailey_colors, (0.42, 4.64), (-2.83, 2.33),
          [-2, -1, 0, 1, 2], e_sig, "NT5E z\u2212scores", 13, 4.8, 6, 0.5, bailey, "Bailey subtype",
          (174, 526), 5.6, 6.8)
box_panel((256, 469, 393, 627), f_stats, f_vals, f_jit, moffitt_colors, (0.4, 2.57), (-2.83, 2.33),
          [-2, -1, 0, 1, 2], f_sig, "NT5E z\u2212scores", 242, 4.8, 6, 0.75, moffitt, "Moffitt subtype",
          (400, 533), 5.6, 6.8)
box_panel((22, 686, 157, 844), h_stats, h_vals, h_jit, bailey_colors, (0.41, 4.6), (-2.54, 2.4),
          [-2, -1, 0, 1, 2], h_sig, "C7 z\u2212scores", 6, 6.2, 7.4, 0.5, bailey, "Bailey subtype",
          (156, 741), 5.9, 7.2)
box_panel((259, 685, 393, 843), i_stats, i_vals, i_jit, moffitt_colors, (0.37, 2.6), (-2.55, 2.44),
          [-2, -1, 0, 1, 2], i_sig, "C7 z\u2212scores", 242, 6.2, 7.4, 0.75, moffitt, "Moffitt subtype",
          (400, 748), 5.9, 7.2)


# ================= survival =================
def km_panel(box, tbox, xlim, curves, medians, risk, pval, pxy, fs, lab_fs, time_fs, ylab_x, leg_y, leg_fs):
    ax = add_ax(*box)
    for name, t, s, cens in curves:
        col = km_colors[name]
        ax.step(t, s, where="post", color=col, lw=2.4, alpha=0.25, zorder=2)
        ax.step(t, s, where="post", color=col, lw=0.9, zorder=3)
        idx = np.searchsorted(t, cens, side="right") - 1
        ax.plot(cens, np.array(s)[idx], "+", color=col, ms=2.8, mew=0.6, zorder=4)
    ax.plot([0, max(medians)], [0.5, 0.5], color="#555555", lw=0.6, ls=(0, (2, 2)), zorder=1)
    for m in medians:
        ax.plot([m, m], [0, 0.5], color="#555555", lw=0.6, ls=(0, (2, 2)), zorder=1)
    ax.text(pxy[0], pxy[1], pval, fontsize=fs + 1.2, ha="left", va="center")
    ax.set_xlim(*xlim)
    ax.set_ylim(-0.05, 1.046)
    ax.set_xticks(risk_times)
    ax.set_yticks([0, 0.25, 0.5, 0.75, 1.0])
    ax.set_yticklabels(["0.00", "0.25", "0.50", "0.75", "1.00"])
    ax.tick_params(labelsize=fs, length=2, width=0.5, pad=1)
    for s in ["top", "right"]:
        ax.spines[s].set_visible(False)
    for s in ["left", "bottom"]:
        ax.spines[s].set_linewidth(0.6)
    ax.set_xlabel("Time (days)", fontsize=time_fs, labelpad=0.5)
    ftext(ylab_x, (box[1] + box[3]) / 2, "Survival probability", rotation=90, ha="center", va="center",
          fontsize=lab_fs)
    # risk table
    tx = add_ax(*tbox)
    for row, (name, counts) in enumerate(risk):
        for t, n in zip(risk_times, counts):
            tx.text(t, 1 - row, str(n), ha="center", va="center", fontsize=4.3)
    tx.set_xlim(*xlim)
    tx.set_ylim(-0.5, 1.5)
    tx.set_yticks([1, 0])
    tx.set_yticklabels([r[0] for r in risk], fontsize=4)
    for lab, (name, _) in zip(tx.get_yticklabels(), risk):
        lab.set_color(km_colors[name])
    tx.set_xticks(risk_times)
    tx.tick_params(axis="x", labelsize=3.8, length=2, width=0.5, pad=1)
    tx.tick_params(axis="y", length=2, width=0.5, pad=1)
    for s in ["top", "right"]:
        tx.spines[s].set_visible(False)
    for s in ["left", "bottom"]:
        tx.spines[s].set_linewidth(0.6)
    tx.set_xlabel("Time (days)", fontsize=4.6, labelpad=0.5)
    ftext(tbox[0], tbox[1] - 6, "Number at risk", fontsize=5, ha="left", va="center")
    handles = [Line2D([0], [0], color=km_colors[n], lw=1, marker="+", ms=3.5) for n in ("Low", "High")]
    fig.legend(handles, ["Low", "High"], loc="center", bbox_to_anchor=(590 / W, 1 - leg_y / H), ncol=2,
               frameon=False, fontsize=leg_fs, handlelength=1.2, handletextpad=0.3, columnspacing=0.8)


km_panel((496, 450, 680, 570), (495, 598, 680, 623), (-67, 1686),
         [("Low", g_low_t, g_low_s, g_low_cens), ("High", g_high_t, g_high_s, g_high_cens)], g_medians,
         [("Low", g_risk_low), ("High", g_risk_high)], "p < 0.0001", (30, 0.2), 3.6, 4.6, 5.2, 478, 438, 5.2)
km_panel((503, 678, 680, 796), (503, 826, 680, 852), (-49, 1678),
         [("Low", j_low_t, j_low_s, j_low_cens), ("High", j_high_t, j_high_s, j_high_cens)], j_medians,
         [("Low", j_risk_low), ("High", j_risk_high)], "p = 0.051", (30, 0.2), 6, 7.2, 8, 478, 667, 7.5)

# ================= panel letters =================
for letter, (x, y) in zip("abcdefghij", [(10, 9), (10, 184), (236, 186), (475, 186), (10, 446), (222, 446),
                                        (442, 448), (10, 667), (224, 667), (439, 670)]):
    ftext(x, y, letter, fontsize=11, fontweight="bold", ha="center", va="center")

fig.savefig("out.png", dpi=100)
